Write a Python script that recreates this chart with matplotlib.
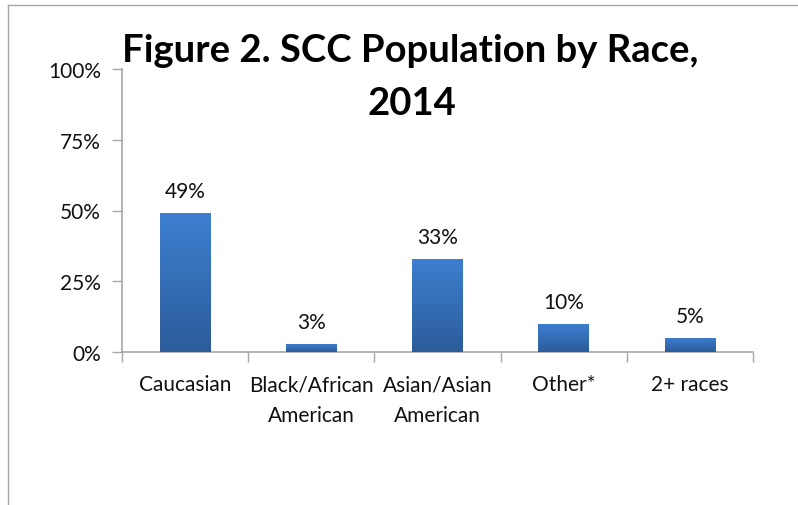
import matplotlib
matplotlib.use("Agg")
import matplotlib.pyplot as plt
import numpy as np
from matplotlib.lines import Line2D
from matplotlib.ticker import FixedLocator, NullFormatter, FuncFormatter
from matplotlib.colors import LinearSegmentedColormap

categories = ["Caucasian", "Black/African\nAmerican", "Asian/Asian\nAmerican", "Other*", "2+ races"]
values = [49, 3, 33, 10, 5]
labels = ["49%", "3%", "33%", "10%", "5%"]
yticks = [0, 25, 50, 75, 100]
title_lines = ["Figure 2. SCC Population by Race,", "2014"]

plt.rcParams['font.family'] = ['Lato', 'DejaVu Sans']

W, H = 798, 506
fig = plt.figure(figsize=(W / 100, H / 100), dpi=100)
fig.patch.set_facecolor("white")

# outer chart border (extends past right/bottom edges)
border_c = "#A6A6A6"
fig.add_artist(Line2D([7.5 / W, 7.5 / W], [0, 1 - 5.5 / H], transform=fig.transFigure, color=border_c, lw=1.0))
fig.add_artist(Line2D([7.5 / W, 1], [1 - 5.5 / H, 1 - 5.5 / H], transform=fig.transFigure, color=border_c, lw=1.0))

left, right = 122 / W, 753 / W
bottom, top = 1 - 353 / H, 1 - 70 / H
ax = fig.add_axes([left, bottom, right - left, top - bottom])

x = np.arange(len(categories))
bars = ax.bar(x, values, width=0.40, color="#3569B3", zorder=2)

# gradient fill
grad = np.linspace(0, 1, 256).reshape(-1, 1)
cmap = LinearSegmentedColormap.from_list("g", ["#2C5C9A", "#3D7FD0"])
for b in bars:
    bx, by, bw, bh = b.get_x(), b.get_y(), b.get_width(), b.get_height()
    im = ax.imshow(grad, cmap=cmap, aspect="auto", origin="lower",
                   extent=[bx, bx + bw, by, by + bh], zorder=3)
    im.set_clip_path(b)
ax.set_aspect("auto")

for xi, v, lab in zip(x, values, labels):
    ax.annotate(lab, (xi, v), xytext=(0, 16 * 0.72), textcoords="offset points",
                ha="center", va="baseline", fontsize=15, color="#111111")

ax.set_xlim(-0.5, len(categories) - 0.5)
ax.set_ylim(0, 100)
ax.yaxis.set_major_locator(FixedLocator(yticks))
ax.yaxis.set_major_formatter(FuncFormatter(lambda v, p: f"{int(v)}%"))
ax.set_xticks(x)
ax.set_xticklabels(categories, linespacing=1.65)
ax.xaxis.set_minor_locator(FixedLocator(np.arange(-0.5, len(categories), 1.0)))
ax.xaxis.set_minor_formatter(NullFormatter())

ax.tick_params(axis="x", which="major", length=0, pad=16, labelsize=15, labelcolor="#111111")
ax.tick_params(axis="x", which="minor", length=7, width=1.0, color="#A6A6A6", direction="out")
ax.tick_params(axis="y", which="major", length=7, width=1.0, color="#A6A6A6", direction="out",
               pad=8, labelsize=15, labelcolor="#111111")

for s in ["top", "right"]:
    ax.spines[s].set_visible(False)
for s in ["left", "bottom"]:
    ax.spines[s].set_color("#A6A6A6")
    ax.spines[s].set_linewidth(1.2)
ax.set_facecolor("none")

fig.text(410 / W, 1 - 62 / H, title_lines[0], ha="center", va="baseline", fontsize=27.5,
         fontweight="bold", color="black")
fig.text(412 / W, 1 - 115 / H, title_lines[1], ha="center", va="baseline", fontsize=27.5,
         fontweight="bold", color="black")

fig.savefig("out.png", dpi=100)
